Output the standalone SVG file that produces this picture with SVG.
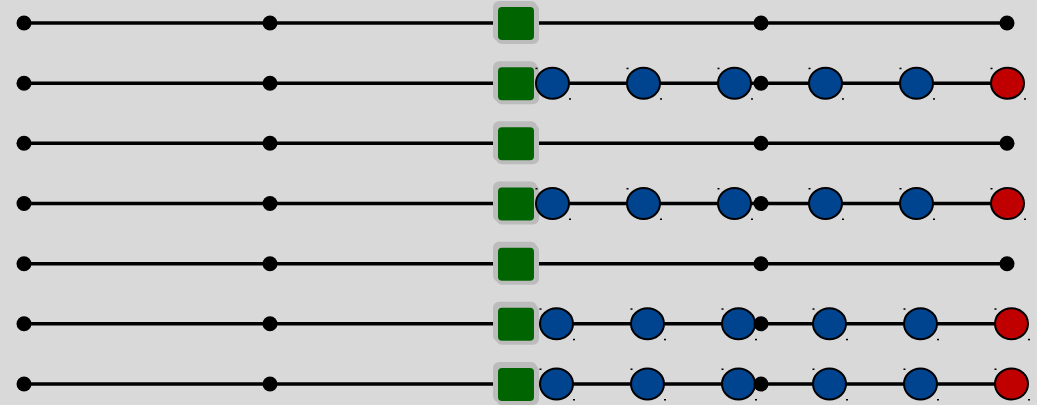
<svg xmlns="http://www.w3.org/2000/svg" width="1037" height="405" viewBox="0 0 1037 405">
<defs>
<style>
.ln{stroke:#000;stroke-width:3.5;fill:none}
.dot{fill:#000}
.fr{fill:#bcbcbc}
.sq{fill:#006400}
.bl{fill:#00438f;stroke:#000;stroke-width:2}
.rd{fill:#c00000;stroke:#000;stroke-width:2}
.mk{fill:#000}
</style>
<g id="dotdef"><circle class="dot" cx="0" cy="0" r="7.5"/></g>
<g id="sqdef"><rect class="fr" x="-23" y="-22" width="44" height="40" rx="6"/><rect class="fr" x="-20" y="-19" width="43" height="40" rx="6"/><rect class="sq" x="-18" y="-16" width="36" height="33" rx="4"/></g>
<g id="bldef"><ellipse class="bl" cx="0" cy="0" rx="16.5" ry="15.5"/><rect class="mk" x="-17" y="-15.5" width="2" height="1.5"/><rect class="mk" x="16.5" y="15" width="2" height="1.5"/></g>
<g id="rddef"><ellipse class="rd" cx="0" cy="0" rx="16.5" ry="15.5"/><rect class="mk" x="-17" y="-15.5" width="2" height="1.5"/><rect class="mk" x="16.5" y="15" width="2" height="1.5"/></g>
</defs>
<rect width="1037" height="405" fill="#d9d9d9"/>
<g id="connectors">
<line class="ln" x1="24" y1="23" x2="1007" y2="23"/>
<line class="ln" x1="24" y1="83.2" x2="1007" y2="83.2"/>
<line class="ln" x1="24" y1="143.3" x2="1007" y2="143.3"/>
<line class="ln" x1="24" y1="203.5" x2="1007" y2="203.5"/>
<line class="ln" x1="24" y1="263.7" x2="1007" y2="263.7"/>
<line class="ln" x1="24" y1="323.8" x2="1011" y2="323.8"/>
<line class="ln" x1="24" y1="384" x2="1011" y2="384"/>
</g>
<g id="row1">
<use href="#dotdef" x="24" y="23"/><use href="#dotdef" x="270" y="23"/><use href="#sqdef" x="516" y="23"/><use href="#dotdef" x="761" y="23"/><use href="#dotdef" x="1007" y="23"/>
</g>
<g id="row2">
<use href="#dotdef" x="24" y="83.2"/><use href="#dotdef" x="270" y="83.2"/><use href="#sqdef" x="516" y="83.2"/>
<use href="#bldef" x="552.5" y="83.2"/><use href="#bldef" x="643.5" y="83.2"/><use href="#bldef" x="734.5" y="83.2"/>
<use href="#dotdef" x="761" y="83.2"/>
<use href="#bldef" x="825.5" y="83.2"/><use href="#bldef" x="916.5" y="83.2"/><use href="#rddef" x="1007.5" y="83.2"/>
</g>
<g id="row3">
<use href="#dotdef" x="24" y="143.3"/><use href="#dotdef" x="270" y="143.3"/><use href="#sqdef" x="516" y="143.3"/><use href="#dotdef" x="761" y="143.3"/><use href="#dotdef" x="1007" y="143.3"/>
</g>
<g id="row4">
<use href="#dotdef" x="24" y="203.5"/><use href="#dotdef" x="270" y="203.5"/><use href="#sqdef" x="516" y="203.5"/>
<use href="#bldef" x="552.5" y="203.5"/><use href="#bldef" x="643.5" y="203.5"/><use href="#bldef" x="734.5" y="203.5"/>
<use href="#dotdef" x="761" y="203.5"/>
<use href="#bldef" x="825.5" y="203.5"/><use href="#bldef" x="916.5" y="203.5"/><use href="#rddef" x="1007.5" y="203.5"/>
</g>
<g id="row5">
<use href="#dotdef" x="24" y="263.7"/><use href="#dotdef" x="270" y="263.7"/><use href="#sqdef" x="516" y="263.7"/><use href="#dotdef" x="761" y="263.7"/><use href="#dotdef" x="1007" y="263.7"/>
</g>
<g id="row6">
<use href="#dotdef" x="24" y="323.8"/><use href="#dotdef" x="270" y="323.8"/><use href="#sqdef" x="516" y="323.8"/>
<use href="#bldef" x="556.5" y="323.8"/><use href="#bldef" x="647.5" y="323.8"/><use href="#bldef" x="738.5" y="323.8"/>
<use href="#dotdef" x="761" y="323.8"/>
<use href="#bldef" x="829.5" y="323.8"/><use href="#bldef" x="920.5" y="323.8"/><use href="#rddef" x="1011.5" y="323.8"/>
</g>
<g id="row7">
<use href="#dotdef" x="24" y="384"/><use href="#dotdef" x="270" y="384"/><use href="#sqdef" x="516" y="384"/>
<use href="#bldef" x="556.5" y="384"/><use href="#bldef" x="647.5" y="384"/><use href="#bldef" x="738.5" y="384"/>
<use href="#dotdef" x="761" y="384"/>
<use href="#bldef" x="829.5" y="384"/><use href="#bldef" x="920.5" y="384"/><use href="#rddef" x="1011.5" y="384"/>
</g>
</svg>
